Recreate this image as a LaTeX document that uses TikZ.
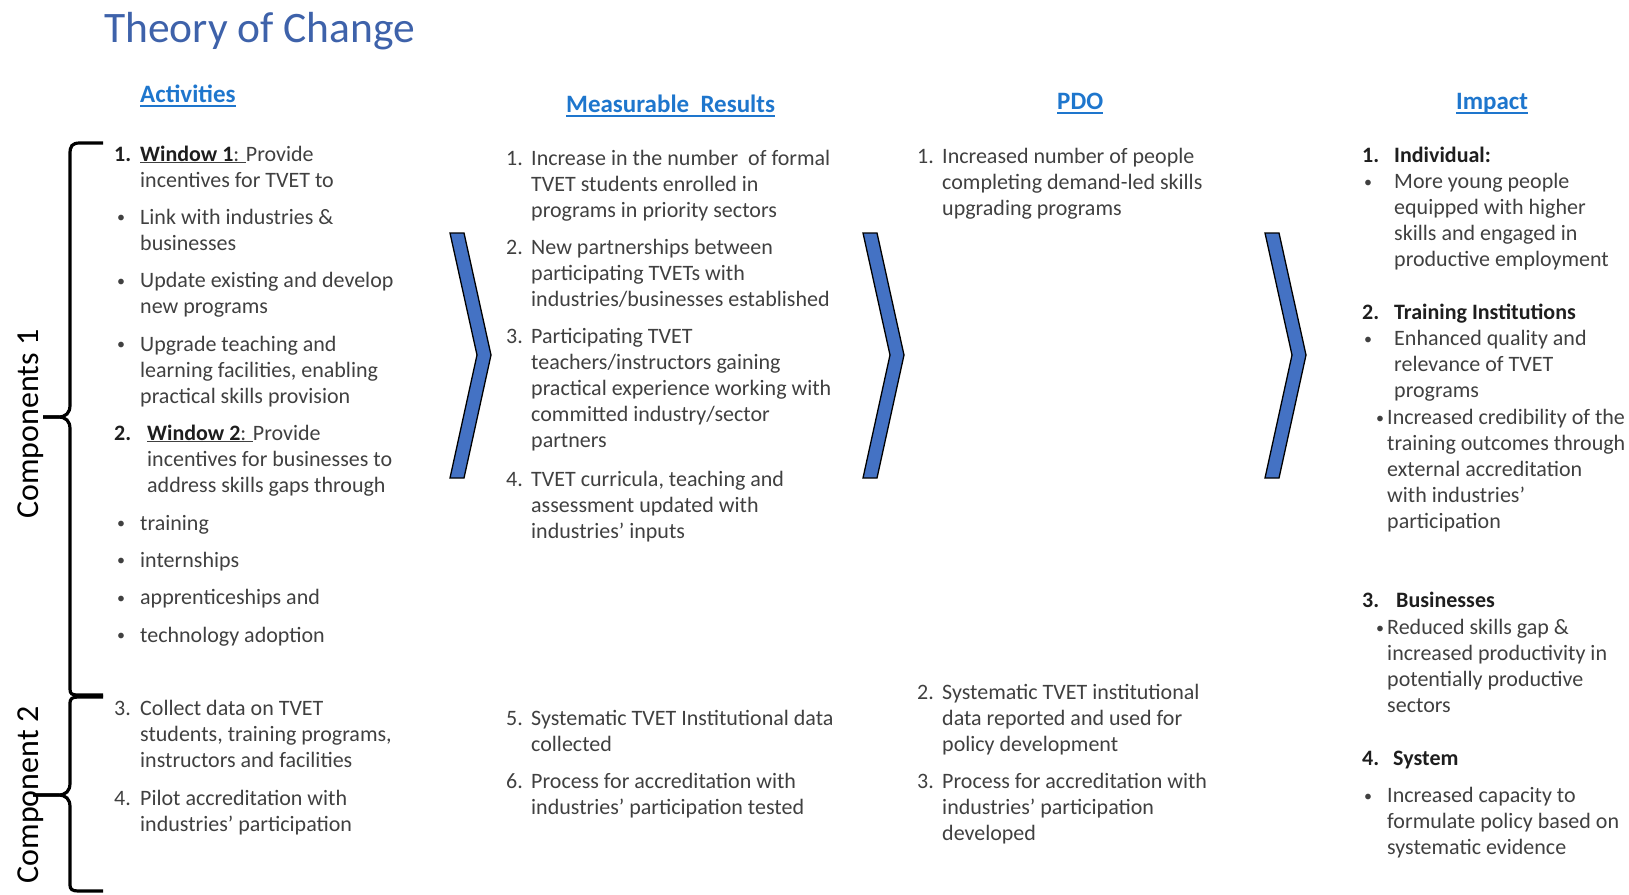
\documentclass[tikz,border=0pt]{standalone}
\usepackage{fontspec}
\setmainfont{Carlito}
\definecolor{txt}{RGB}{64,64,64}
\definecolor{hd}{RGB}{30,30,30}
\definecolor{ttl}{RGB}{62,98,170}
\definecolor{lnk}{RGB}{30,118,205}
\definecolor{chev}{RGB}{68,114,196}

% stacked lines with a fixed baseline distance; the box baseline is the first line
\newcommand\ml[1]{{\let\\\cr\vtop{\baselineskip=26pt\lineskiplimit=-100pt\halign{##\hfil\cr#1\crcr}}}}
% list bullet, a little smaller than the text
\newcommand\bul{{\fontsize{16}{26}\selectfont\raisebox{1.5pt}{•}}}

\tikzset{
  body/.style={font=\fontsize{22}{26}\selectfont, text=txt, inner sep=0pt, anchor=base west},
  bnum/.style={body, font=\fontsize{22}{26}\selectfont\bfseries, text=hd},
  hdr/.style={font=\fontsize{25}{30}\selectfont\bfseries, text=lnk, inner sep=0pt, anchor=base west},
  uline/.style={draw=lnk, line width=1.6pt},
  chevron/.style={fill=chev, draw=black, line width=1.3pt, line join=miter},
  bracket/.style={draw=black, line width=3.2pt},
  comp/.style={font=\fontsize{32}{38}\selectfont, text=black, inner sep=0pt, anchor=base, rotate=90},
}

\begin{document}
\begin{tikzpicture}[x=1pt,y=-1pt]
\useasboundingbox (0,0) rectangle (1629,894);

% title
\node[font=\fontsize{43.5}{50}\selectfont, text=ttl, inner sep=0pt, anchor=base west] (title) at (104,42) {Theory of Change};

% column headers
\node[hdr] (hAct) at (140,102) {Activities};
\node[hdr] (hRes) at (566,112) {Measurable\ \ Results};
\node[hdr] (hPdo) at (1057,109) {PDO};
\node[hdr] (hImp) at (1456,109) {Impact};
\foreach \h in {hAct,hRes,hPdo,hImp}
  \draw[uline] ([yshift=-4pt]\h.base west) -- ([yshift=-4pt]\h.base east);

% component labels and brackets
\node[comp] (c1) at (38,424) {Components 1};
\node[comp] (c2) at (38,795) {Component 2};
\draw[bracket] (103,143) -- (80,143) .. controls (72,143) and (70,146) .. (70,154) -- (70,405)
  .. controls (70,413) and (66,417) .. (58,417) -- (43,417);
\draw[bracket] (43,417) -- (58,417) .. controls (66,417) and (70,421) .. (70,429) -- (70,689)
  .. controls (70,694) and (72,695) .. (78,695) -- (103,695);
\draw[bracket] (103,697) -- (78,697) .. controls (72,697) and (70,699) .. (70,703) -- (70,783)
  .. controls (70,791) and (66,795) .. (58,795) -- (33,795);
\draw[bracket] (33,795) -- (58,795) .. controls (66,795) and (70,799) .. (70,807) -- (70,885)
  .. controls (70,889) and (72,891) .. (78,891) -- (103,891);

% chevrons between the columns
\foreach \cx in {450,863,1265}
  \draw[chevron] (\cx,233) -- ++(14,0) -- ++(27,122) -- ++(-27,123) -- ++(-14,0) -- ++(27,-123) -- cycle;

% activities
\node[bnum] (a1n) at (114,161) {1.};
\node[body] (a1) at (140,161) {\ml{\underline{\textcolor{hd}{\bfseries Window 1}: }Provide\\incentives for TVET to}};
\node[body] (a1ab) at (117,224) {\bul};
\node[body] (a1a) at (140,224) {\ml{Link with industries \&\\businesses}};
\node[body] (a1bb) at (117,287.5) {\bul};
\node[body] (a1b) at (140,287.5) {\ml{Update existing and develop\\new programs}};
\node[body] (a1cb) at (117,351) {\bul};
\node[body] (a1c) at (140,351) {\ml{Upgrade teaching and\\learning facilities, enabling\\practical skills provision}};
\node[bnum] (a2n) at (114,440) {2.};
\node[body] (a2) at (147,440) {\ml{\underline{\textcolor{hd}{\bfseries Window 2}: }Provide\\incentives for businesses to\\address skills gaps through}};
\node[body] (a2ab) at (117,530) {\bul};
\node[body] (a2a) at (140,530) {training};
\node[body] (a2bb) at (117,567) {\bul};
\node[body] (a2b) at (140,567) {internships};
\node[body] (a2cb) at (117,604.5) {\bul};
\node[body] (a2c) at (140,604.5) {apprenticeships and};
\node[body] (a2db) at (117,642) {\bul};
\node[body] (a2d) at (140,642) {technology adoption};
\node[body] (a3n) at (114,715.5) {3.};
\node[body] (a3) at (140,715.5) {\ml{Collect data on TVET\\students, training programs,\\instructors and facilities}};
\node[body] (a4n) at (114,805) {4.};
\node[body] (a4) at (140,805) {\ml{Pilot accreditation with\\industries’ participation}};

% measurable results
\node[body] (m1n) at (506,165) {1.};
\node[body] (m1) at (531,165) {\ml{Increase in the number\ \ of formal\\TVET students enrolled in\\programs in priority sectors}};
\node[body] (m2n) at (506,254.3) {2.};
\node[body] (m2) at (531,254.3) {\ml{New partnerships between\\participating TVETs with\\industries/businesses established}};
\node[body] (m3n) at (506,343.6) {3.};
\node[body] (m3) at (531,343.6) {\ml{Participating TVET\\teachers/instructors gaining\\practical experience working with\\committed industry/sector\\partners}};
\node[body] (m4n) at (506,486) {4.};
\node[body] (m4) at (531,486) {\ml{TVET curricula, teaching and\\assessment updated with\\industries’ inputs}};
\node[body] (m5n) at (506,725) {5.};
\node[body] (m5) at (531,725) {\ml{Systematic TVET Institutional data\\collected}};
\node[body] (m6n) at (506,788.3) {6.};
\node[body] (m6) at (531,788.3) {\ml{Process for accreditation with\\industries’ participation tested}};

% project development objective
\node[body] (p1n) at (917,163) {1.};
\node[body] (p1) at (942,163) {\ml{Increased number of people\\completing demand-led skills\\upgrading programs}};
\node[body] (p2n) at (917,699) {2.};
\node[body] (p2) at (942,699) {\ml{Systematic TVET institutional\\data reported and used for\\policy development}};
\node[body] (p3n) at (917,788.3) {3.};
\node[body] (p3) at (942,788.3) {\ml{Process for accreditation with\\industries’ participation\\developed}};

% impact
\node[bnum] (i1n) at (1362,162) {1.};
\node[bnum] (i1) at (1394,162) {Individual:};
\node[body] (i1ab) at (1364,188.8) {\bul};
\node[body] (i1a) at (1394,188.8) {\ml{More young people\\equipped with higher\\skills and engaged in\\productive employment}};
\node[bnum] (i2n) at (1362,319.7) {2.};
\node[bnum] (i2) at (1394,319.7) {Training Institutions};
\node[body] (i2ab) at (1364,345.7) {\bul};
\node[body] (i2a) at (1394,345.7) {\ml{Enhanced quality and\\relevance of TVET\\programs}};
\node[body] (i2bb) at (1376,424.7) {\bul};
\node[body] (i2b) at (1387,424.7) {\ml{Increased credibility of the\\training outcomes through\\external accreditation\\with industries’\\participation}};
\node[bnum] (i3n) at (1362,607.5) {3.};
\node[bnum] (i3) at (1396,607.5) {Businesses};
\node[body] (i3ab) at (1376,634.6) {\bul};
\node[body] (i3a) at (1387,634.6) {\ml{Reduced skills gap \&\\increased productivity in\\potentially productive\\sectors}};
\node[bnum] (i4n) at (1362,765.5) {4.};
\node[bnum] (i4) at (1393,765.5) {System};
\node[body] (i4ab) at (1364,802.9) {\bul};
\node[body] (i4a) at (1387,802.9) {\ml{Increased capacity to\\formulate policy based on\\systematic evidence}};
\end{tikzpicture}
\end{document}
